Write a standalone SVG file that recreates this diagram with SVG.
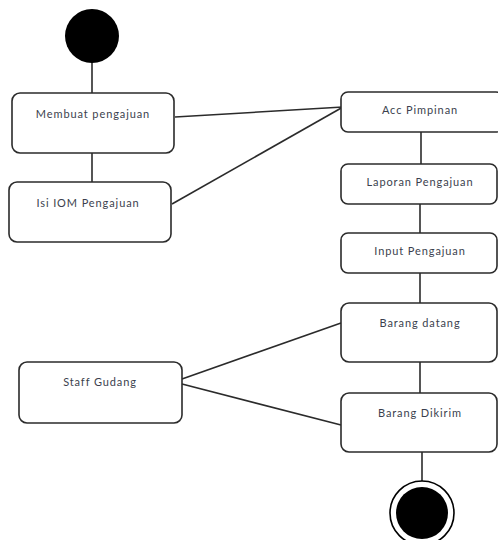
<svg xmlns="http://www.w3.org/2000/svg" width="498" height="540" viewBox="0 0 498 540">
  <style>
    .box { fill: #ffffff; stroke: #2b2b2b; stroke-width: 1.6; }
    .lbl { font-family: Lato, "Open Sans", sans-serif; font-size: 11px; fill: #3b3f4e; text-anchor: middle; letter-spacing: 0.9px; }
    .conn line { stroke: #2b2b2b; stroke-width: 1.6; }
  </style>
  <rect width="498" height="540" fill="#ffffff"/>

  <g class="conn">
    <line x1="92" y1="60" x2="92" y2="93"/>
    <line x1="92" y1="153" x2="92" y2="182"/>
    <line x1="175" y1="117" x2="343" y2="107"/>
    <line x1="172" y1="204" x2="343" y2="107"/>
    <line x1="421" y1="132" x2="421" y2="164"/>
    <line x1="420" y1="204" x2="420" y2="233"/>
    <line x1="420" y1="273" x2="420" y2="303"/>
    <line x1="420" y1="362" x2="420" y2="393"/>
    <line x1="422" y1="452" x2="422" y2="482"/>
    <line x1="182" y1="379" x2="341" y2="323"/>
    <line x1="182" y1="384" x2="341" y2="425"/>
  </g>

  <g id="start">
    <circle cx="92" cy="36" r="27" fill="#000000"/>
  </g>

  <g id="membuat-pengajuan">
    <rect class="box" x="12" y="93" width="162" height="60" rx="8"/>
    <text class="lbl" x="93" y="118">Membuat  pengajuan</text>
  </g>

  <g id="isi-iom">
    <rect class="box" x="9" y="182" width="162" height="60" rx="8"/>
    <text class="lbl" x="88" y="207">Isi IOM Pengajuan</text>
  </g>

  <g id="acc-pimpinan">
    <rect class="box" x="341" y="92" width="162" height="40" rx="7"/>
    <text class="lbl" x="420" y="114">Acc Pimpinan</text>
  </g>

  <g id="laporan-pengajuan">
    <rect class="box" x="341" y="164" width="156" height="40" rx="7"/>
    <text class="lbl" x="420" y="186">Laporan Pengajuan</text>
  </g>

  <g id="input-pengajuan">
    <rect class="box" x="341" y="233" width="156" height="40" rx="7"/>
    <text class="lbl" x="420" y="255">Input Pengajuan</text>
  </g>

  <g id="barang-datang">
    <rect class="box" x="341" y="303" width="156" height="59" rx="8"/>
    <text class="lbl" x="420" y="327">Barang  datang</text>
  </g>

  <g id="barang-dikirim">
    <rect class="box" x="341" y="393" width="156" height="59" rx="8"/>
    <text class="lbl" x="420" y="417">Barang  Dikirim</text>
  </g>

  <g id="staff-gudang">
    <rect class="box" x="19" y="362" width="163" height="61" rx="8"/>
    <text class="lbl" x="100" y="386">Staff Gudang</text>
  </g>

  <g id="end">
    <circle cx="422" cy="513" r="32" fill="#ffffff" stroke="#000000" stroke-width="1.6"/>
    <circle cx="422" cy="513" r="26" fill="#000000"/>
  </g>
</svg>
